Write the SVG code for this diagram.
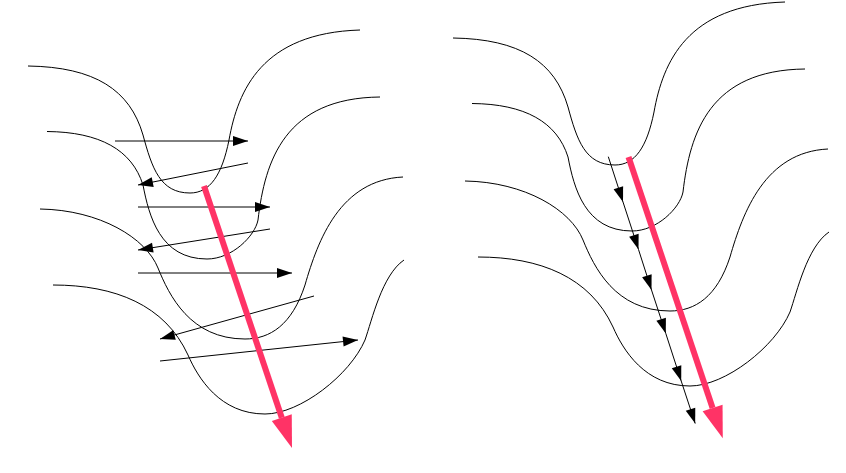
<svg xmlns="http://www.w3.org/2000/svg" width="846" height="473" viewBox="0 0 846 473">
<style>
.curve{fill:none;stroke:#000;stroke-width:1}
.flow{fill:none;stroke:#000;stroke-width:1;marker-end:url(#ah)}
.chain{fill:none;stroke:#000;stroke-width:1;marker-mid:url(#ah);marker-end:url(#ah)}
.grad{fill:none;stroke:#FF3366;stroke-width:6;marker-end:url(#rh)}
</style>
<defs>
<marker id="ah" markerUnits="userSpaceOnUse" markerWidth="15" markerHeight="10" refX="15" refY="5" orient="auto" overflow="visible">
<path d="M0,0 L15,5 L0,10 z" fill="#000"/>
</marker>
<marker id="rh" markerUnits="userSpaceOnUse" markerWidth="32" markerHeight="21" refX="0" refY="10.5" orient="auto" overflow="visible">
<path d="M0,0 L32,10.5 L0,21 z" fill="#FF3366"/>
</marker>
</defs>
<rect width="846" height="473" fill="#fff"/>
<g id="left-contours">
<path id="l1" class="curve" d="M28,66 C95,67 130,90 143,135 C152,168 160,193 190,193 C210,193 222,175 229,140 C238,90 262,33 360,30"/>
<path id="l2" class="curve" d="M47,131.5 C100,132 132,150 143,185 C149,216 160,259 207,259 C232,259 255,236 258,220 C265,160 285,98 380,97"/>
<path id="l3" class="curve" d="M40,209 C100,210 146,238 158,268 C169,295 190,339 245,339 C270,339 292,325 305,285 C318,240 340,180 403,177"/>
<path id="l4" class="curve" d="M53,285 C115,285 165,305 188,355 C198,378 220,414 265,414 C300,414 350,375 365,340 C372,320 382,275 404,260"/>
</g>
<g id="right-contours" transform="translate(425,-28)">
<path id="r1" class="curve" d="M28,66 C95,67 130,90 143,135 C152,168 160,193 190,193 C210,193 222,175 229,140 C238,90 262,33 360,30"/>
<path id="r2" class="curve" d="M47,131.5 C100,132 132,150 143,185 C149,216 160,259 207,259 C232,259 255,236 258,220 C265,160 285,98 380,97"/>
<path id="r3" class="curve" d="M40,209 C100,210 146,238 158,268 C169,295 190,339 245,339 C270,339 292,325 305,285 C318,240 340,180 403,177"/>
<path id="r4" class="curve" d="M53,285 C115,285 165,305 188,355 C198,378 220,414 265,414 C300,414 350,375 365,340 C372,320 382,275 404,260"/>
</g>
<g id="connectors">
<line class="flow" x1="115" y1="141" x2="248" y2="141"/>
<line class="flow" x1="248" y1="163" x2="138" y2="185"/>
<line class="flow" x1="138" y1="207" x2="270" y2="207"/>
<line class="flow" x1="270" y1="229" x2="138" y2="250"/>
<line class="flow" x1="138" y1="273" x2="292" y2="273"/>
<line class="flow" x1="314" y1="296" x2="160" y2="339"/>
<line class="flow" x1="160" y1="361" x2="358" y2="340"/>
<line class="grad" x1="204" y1="186" x2="281.8" y2="417.7"/>
<polyline class="chain" points="608.3,156.7 623,202 638.5,249.5 651.5,290 665.8,333.5 681.2,381 695.2,423.5"/>
<line class="grad" x1="628.5" y1="157" x2="712.6" y2="408"/>
</g>
</svg>
